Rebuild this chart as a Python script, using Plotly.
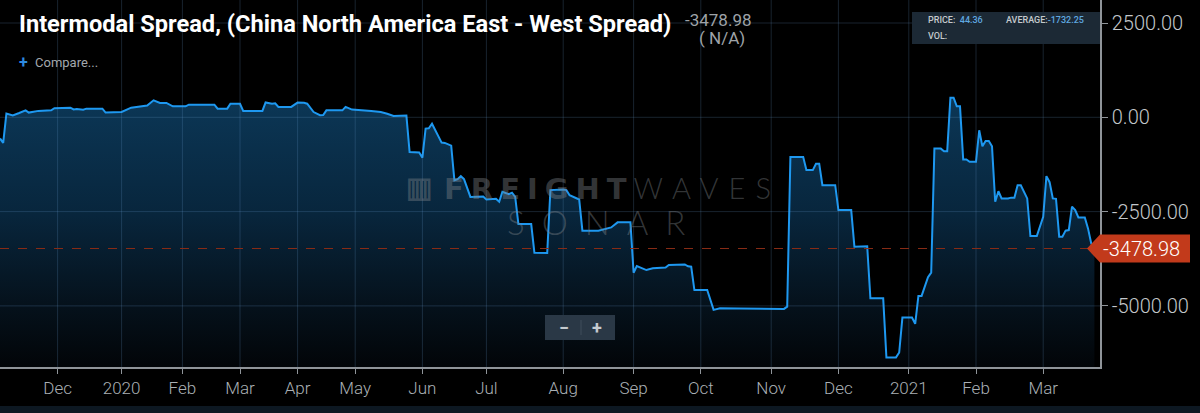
import plotly.graph_objects as go


# ==================================    Data    ==================================

# chart sessions (bar index) and spread values
BARS = [0, 1, 2, 4, 6, 8, 9, 12, 16, 17, 22, 23, 24, 26, 27, 32, 33, 38, 41, 44,
        46, 48, 50, 52, 54, 58, 59, 67, 68, 71, 72, 75, 76, 82, 83, 85, 86, 87, 91, 93,
        95, 96, 98, 100, 101, 102, 107, 108, 110, 116, 119, 121, 123, 127, 128,
        131, 132, 133, 134, 135, 136, 138, 139, 141, 142, 143, 144, 145, 147, 151,
        152, 155, 156, 157, 159, 160, 161, 162, 166, 167, 171, 172, 176, 177, 178,
        181, 182, 187, 191, 193, 197, 198, 199, 200, 202, 204, 208, 209, 213, 214,
        215, 216, 217, 221, 223, 225, 231, 245, 246, 247, 251, 252, 254, 255, 256,
        257, 261, 262, 266, 267, 271, 272, 276, 277, 280, 281, 282, 285, 286, 287,
        288, 290, 291, 292, 294, 295, 296, 297, 298, 299, 300, 301, 302, 303, 305,
        306, 307, 308, 309, 310, 311, 312, 313, 315, 316, 317, 318, 319, 321, 322,
        324, 326, 327, 328, 329, 330, 331, 332, 333, 334, 335, 336, 337, 339, 340,
        341, 342]

SPREAD = [-560, -680, 100, 50, 115, 185, 125, 170, 185, 240, 255, 210, 220, 200, 230,
          230, 125, 140, 255, 290, 310, 450, 380, 380, 290, 290, 335, 335, 230, 230,
          360, 360, 170, 170, 395, 360, 370, 275, 275, 390, 385, 360, 140, 55, 60,
          185, 185, 275, 205, 170, 140, 95, 35, 45, -920,
          -935, -1070, -300, -290, -170, -345, -670, -680, -750, -1670, -1640, -1560,
          -1640, -2110, -2100, -2180, -2160, -2240, -1975, -2040, -2000, -2110, -2830,
          -2830, -3590, -3600, -1930, -1915, -1930, -2065, -2180, -3005, -3005, -2920,
          -2785, -2780, -4120, -3945, -3975, -4050, -4000, -3980, -3915, -3915, -3900,
          -3950, -3960, -4580, -4580, -5105, -5065, -5070, -5080, -5020, -1050, -1050,
          -1400, -1400, -1230, -1230, -1800, -1800, -2460, -2460, -3430, -3420, -4800,
          -4800, -6365, -6365, -6235, -5310, -5310, -5475, -4735, -4735, -4240, -4120,
          -830, -830, -900, -900, 520, 520, 290, 290, -1120, -1120, -1180, -1180, -345,
          -770, -625, -625, -770, -2240, -1960, -2150, -2150, -2130, -2130, -1800,
          -1800, -2150, -3150, -3150, -2640, -1560, -1720, -2150, -2160, -3165, -3165,
          -3005, -2990, -2370, -2460, -2655, -2655, -2945, -3340, -3478.98]

# month ticks (bar index of first session in month)
TICK_BARS = [18, 38, 57, 75, 93, 111, 132, 152, 176, 198, 219, 241, 262, 284, 305, 326]
TICK_LABELS = ["Dec", "2020", "Feb", "Mar", "Apr", "May", "Jun", "Jul", "Aug", "Sep",
               "Oct", "Nov", "Dec", "2021", "Feb", "Mar"]

Y_TICKS = [2500, 0, -2500, -5000]

LAST_VALUE = -3478.98
PRICE = 44.36
AVERAGE = -1732.25

Y_MIN = -6620
Y_MAX = 3110
X_MAX = 343.75


# ==================================    Helpers    ==================================

# plot area is 1100 x 367 px, convert pixel spots to paper coords
def px_x(px):
    return px / 1100


def px_y(py):
    return (367 - py) / 367


fig = go.Figure()

# invisible floor so the area fills down to the bottom of the chart
fig.add_trace(go.Scatter(
    x=BARS,
    y=[Y_MIN] * len(BARS),
    mode="lines",
    line=dict(width=0),
    hoverinfo="skip",
))

fig.add_trace(go.Scatter(
    x=BARS,
    y=SPREAD,
    mode="lines",
    line=dict(color="#1e98f0", width=2),
    fill="tonexty",
    fillgradient=dict(
        type="vertical",
        start=Y_MIN,
        stop=600,
        colorscale=[[0, "#020508"], [0.22, "#05111b"], [0.57, "#08263d"],
                    [0.92, "#0b3452"], [1, "#0c3857"]],
    ),
    name="Spread",
))

# grid drawn over the fill so it still shows through the area
for t in TICK_BARS:
    fig.add_vline(x=t, line=dict(color="rgba(110,160,210,0.22)", width=1), layer="above")
for t in Y_TICKS:
    fig.add_hline(y=t, line=dict(color="rgba(110,160,210,0.22)", width=1), layer="above")

# last value dashed line
fig.add_hline(y=LAST_VALUE, line=dict(color="#8a2c16", width=1, dash="dash"), layer="above")

grey = "#9ea3a8"

fig.update_layout(
    width=1200,
    height=413,
    margin=dict(l=0, r=100, t=0, b=46),
    paper_bgcolor="#000000",
    plot_bgcolor="#000000",
    showlegend=False,
    font=dict(family="Roboto", color=grey),
    xaxis=dict(
        range=[0, X_MAX],
        tickvals=TICK_BARS,
        ticktext=TICK_LABELS,
        showgrid=False,
        zeroline=False,
        showline=True,
        linecolor="#8f9499",
        linewidth=1.5,
        ticks="outside",
        ticklen=5,
        tickcolor="#8f9499",
        tickfont=dict(size=17, color="#aab0b5", weight=300),
    ),
    yaxis=dict(
        side="right",
        range=[Y_MIN, Y_MAX],
        tickvals=Y_TICKS,
        ticktext=[f"{v:.2f}" for v in Y_TICKS],
        showgrid=False,
        zeroline=False,
        showline=True,
        linecolor="#8f9499",
        linewidth=1.5,
        ticks="outside",
        ticklen=6,
        tickcolor="#8f9499",
        tickfont=dict(size=20, color="#c3c7cb", weight=300),
    ),
)

# ==================================    Header    ==================================

fig.add_annotation(
    text="Intermodal Spread, (China North America East - West Spread)",
    xref="paper", yref="paper", x=px_x(17), y=px_y(24),
    xanchor="left", yanchor="middle", showarrow=False,
    font=dict(size=23.6, color="#ffffff", weight="bold"),
)
fig.add_annotation(
    text=f"{LAST_VALUE:.2f}", xref="paper", yref="paper", x=px_x(683), y=px_y(20),
    xanchor="left", yanchor="middle", showarrow=False, font=dict(size=17, color=grey),
)
fig.add_annotation(
    text="( N/A)", xref="paper", yref="paper", x=px_x(697), y=px_y(38),
    xanchor="left", yanchor="middle", showarrow=False, font=dict(size=17, color=grey),
)
fig.add_annotation(
    text="<b>+</b>", xref="paper", yref="paper", x=px_x(17), y=px_y(62),
    xanchor="left", yanchor="middle", showarrow=False, font=dict(size=16, color="#2d8ae0"),
)
fig.add_annotation(
    text="Compare...", xref="paper", yref="paper", x=px_x(33), y=px_y(63),
    xanchor="left", yanchor="middle", showarrow=False, font=dict(size=13, color="#a3a8ad"),
)

# price info box
fig.add_shape(type="rect", xref="paper", yref="paper",
              x0=px_x(912), x1=px_x(1100), y0=px_y(44), y1=px_y(12),
              fillcolor="#1c2935", line=dict(width=0), layer="above")
box_font = dict(size=9, color="#c5c9cd", weight=500)
fig.add_annotation(text=f"PRICE:  <span style='color:#5fa8e0'>{PRICE:.2f}</span>",
                   xref="paper", yref="paper", x=px_x(926), y=px_y(20),
                   xanchor="left", yanchor="middle", showarrow=False, font=box_font)
fig.add_annotation(text=f"AVERAGE:<span style='color:#5fa8e0'>{AVERAGE:.2f}</span>",
                   xref="paper", yref="paper", x=px_x(1086), y=px_y(20),
                   xanchor="right", yanchor="middle", showarrow=False, font=box_font)
fig.add_annotation(text="VOL:", xref="paper", yref="paper", x=px_x(926), y=px_y(36),
                   xanchor="left", yanchor="middle", showarrow=False, font=box_font)

# ==================================    Watermark    ==================================

wm = "rgba(125,130,135,0.42)"
fig.add_annotation(
    text="<span style='font-family:DejaVu Sans;font-weight:bold;letter-spacing:7px'>FREIGHT</span>"
         "<span style='font-family:Lato;font-weight:300;letter-spacing:10px'>WAVES</span>",
    xref="paper", yref="paper", x=px_x(612), y=px_y(188),
    xanchor="center", yanchor="middle", showarrow=False,
    font=dict(size=29, color=wm),
)
fig.add_annotation(
    text="<span style='letter-spacing:17px'>SONAR</span>",
    xref="paper", yref="paper", x=px_x(604), y=px_y(222),
    xanchor="center", yanchor="middle", showarrow=False,
    font=dict(size=33, color=wm, family="Lato", weight=300),
)
fig.add_annotation(
    text="<b>▥</b>", xref="paper", yref="paper", x=px_x(419), y=px_y(187),
    xanchor="center", yanchor="middle", showarrow=False, font=dict(size=28, color=wm),
)

# ==================================    Zoom buttons    ==================================

fig.add_shape(type="rect", xref="paper", yref="paper",
              x0=px_x(545), x1=px_x(615), y0=px_y(340), y1=px_y(315),
              fillcolor="#2a3846", line=dict(width=0), layer="above")
fig.add_shape(type="line", xref="paper", yref="paper",
              x0=px_x(581), x1=px_x(581), y0=px_y(335), y1=px_y(320),
              line=dict(color="#3e4d5b", width=1), layer="above")
fig.add_annotation(text="<b>−</b>", xref="paper", yref="paper", x=px_x(564), y=px_y(327),
                   xanchor="center", yanchor="middle", showarrow=False,
                   font=dict(size=18, color="#c5cacf"))
fig.add_annotation(text="<b>+</b>", xref="paper", yref="paper", x=px_x(597), y=px_y(327),
                   xanchor="center", yanchor="middle", showarrow=False,
                   font=dict(size=18, color="#c5cacf"))

# ==================================    Last value tag    ==================================

fig.add_shape(
    type="path", xref="paper", yref="y",
    xsizemode="pixel", ysizemode="pixel", xanchor=1, yanchor=LAST_VALUE,
    path="M -13,0 L 0,14 L 90,14 L 90,-14 L 0,-14 Z",
    fillcolor="#c23a1b", line=dict(width=0), layer="above",
)
fig.add_annotation(
    text=f"{LAST_VALUE:.2f}", xref="paper", yref="y", x=1, y=LAST_VALUE,
    xanchor="left", yanchor="middle", xshift=1, showarrow=False,
    font=dict(size=20, color="#ffffff", weight=300),
)

# bottom strip under the axis labels
fig.add_shape(type="rect", xref="paper", yref="paper",
              x0=0, x1=px_x(1200), y0=px_y(413), y1=px_y(406),
              fillcolor="#0d1822", line=dict(width=0))

# drop the default page margin so the chart sits flush in the window
fig.write_html("out.html", config={"displayModeBar": False},
               post_script="document.body.style.margin='0px';")
